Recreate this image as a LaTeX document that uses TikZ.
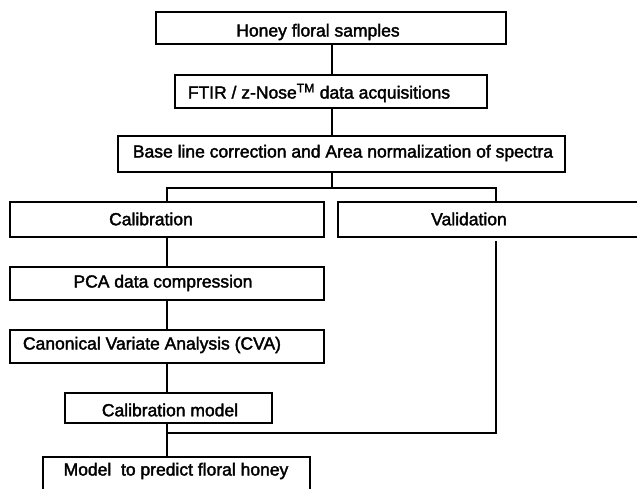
\documentclass[tikz,border=0pt]{standalone}
\usepackage{fontspec}
\setmainfont{Liberation Sans}[FakeBold=2]
\begin{document}
\begin{tikzpicture}[x=1pt,y=-1pt,
  box/.style={draw=black, line width=1.6pt, rectangle, inner sep=0pt},
  txt/.style={inner sep=0pt, font=\fontsize{17.5}{20}\selectfont},
  conn/.style={draw=black, line width=1.3pt}]
\useasboundingbox (0,0) rectangle (637,489);
\fill[white] (0,0) rectangle (637,489);
% boxes
\node[box, minimum width=350pt, minimum height=32pt] (b1) at (331,28) {};
\node[box, minimum width=312pt, minimum height=33pt] (b2) at (331,91.5) {};
\node[box, minimum width=447pt, minimum height=36pt] (b3) at (341.5,154) {};
\node[box, minimum width=314pt, minimum height=35pt] (cal) at (167,219.5) {};
\node[box, minimum width=307pt, minimum height=35pt] (val) at (491.5,219.5) {};
\node[box, minimum width=314pt, minimum height=33pt] (pca) at (167,283.5) {};
\node[box, minimum width=314pt, minimum height=33pt] (cva) at (167,346.5) {};
\node[box, minimum width=207pt, minimum height=30pt] (cm) at (168.5,408) {};
\node[box, minimum width=267pt, minimum height=44pt] (fin) at (176.5,479) {};
% texts
\node[txt] (t1) at (318,32) {Honey floral samples};
\node[txt] (t2) at (319,93) {FTIR / z-Nose\textsuperscript{TM} data acquisitions};
\node[txt] (t3) at (343,153) {Base line correction and Area normalization of spectra};
\node[txt] (t4) at (151,219) {Calibration};
\node[txt] (t5) at (469,219) {Validation};
\node[txt] (t6) at (163,283) {PCA data compression};
\node[txt] (t7) at (152,345) {Canonical Variate Analysis (CVA)};
\node[txt] (t8) at (170,410) {Calibration model};
\node[txt] (t9) at (176,471) {Model\ \ to predict floral honey};
% connector points
\coordinate (br) at (332,188);
\coordinate (vx) at (496,188);
\coordinate (lx) at (167,188);
\coordinate (vs) at (496,241);
\coordinate (jn) at (167,433);
% connectors
\draw[conn] (b1.south -| br) -- (b2.north -| br);
\draw[conn] (b2.south -| br) -- (b3.north -| br);
\draw[conn] (b3.south -| br) -- (br);
\draw[conn] (cal.north -| lx) |- (vx) -- (vx |- val.north);
\draw[conn] (cal.south -| lx) -- (pca.north -| lx);
\draw[conn] (pca.south -| lx) -- (cva.north -| lx);
\draw[conn] (cva.south -| lx) -- (cm.north -| lx);
\draw[conn] (cm.south -| lx) -- (fin.north -| lx);
\draw[line width=1.1pt] (vs) |- (jn);
\end{tikzpicture}
\end{document}
